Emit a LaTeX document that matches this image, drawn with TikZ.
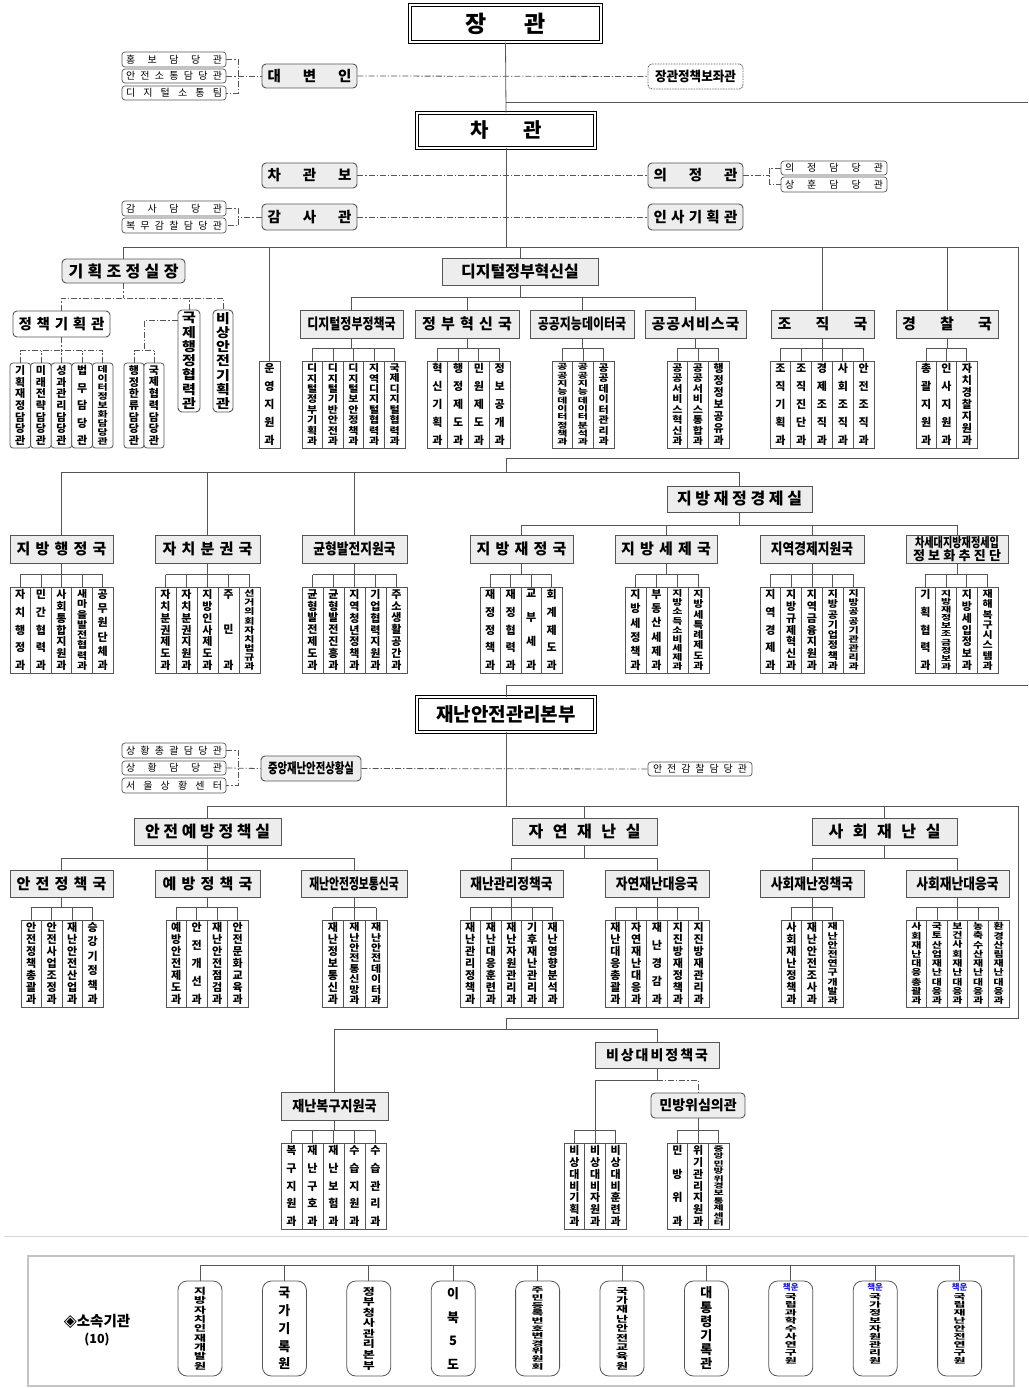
\documentclass[tikz,border=0pt]{standalone}
\usepackage{fontspec}
\usepackage{graphicx}
\setmainfont{Noto Sans CJK KR}
\newfontfamily\symfont{DejaVu Sans}
\usetikzlibrary{calc}

\definecolor{linegray}{HTML}{555555}
\definecolor{boxgray}{HTML}{EDEDED}
\definecolor{framegray}{HTML}{C4C4C4}
\definecolor{chaekun}{HTML}{1E1EE6}

% vertical and spread-out Korean text
\ExplSyntaxOn
\tl_new:N \l_kr_tl
\tl_new:N \l_kr_in_tl
\int_new:N \l_kr_n_int
\fp_new:N \l_kr_s_fp
\bool_new:N \l_kr_first_bool
\NewDocumentCommand \vt { O{11} m m }
  {
    \tl_set:Nx \l_kr_in_tl {#3}
    \int_set:Nn \l_kr_n_int { \tl_count:N \l_kr_in_tl }
    \fp_set:Nn \l_kr_s_fp { min(1, 0.95*((#2)-6)/(\l_kr_n_int*(#1))) }
    \tl_clear:N \l_kr_tl
    \bool_set_true:N \l_kr_first_bool
    \tl_map_inline:Nn \l_kr_in_tl
      {
        \bool_if:NTF \l_kr_first_bool
          { \bool_set_false:N \l_kr_first_bool }
          { \tl_put_right:Nn \l_kr_tl { \par \vfill } }
        \tl_put_right:Nx \l_kr_tl
          { \exp_not:N \makebox [0pt] { \exp_not:N \scalebox {1} [ \fp_use:N \l_kr_s_fp ] { \exp_not:n {##1} } } }
      }
    \parbox [c] [ \fp_eval:n { (#2) - 6 } pt ] [s] { 0pt }
      {
        \centering
        \fontsize {#1} { \fp_eval:n { (#1) * \l_kr_s_fp } } \selectfont
        \skip_set:Nn \lineskip { 0pt }
        \dim_set:Nn \lineskiplimit { -100pt }
        \l_kr_tl
      }
  }
\NewDocumentCommand \hjust { m m }
  {
    \tl_set:Nx \l_kr_in_tl {#2}
    \tl_clear:N \l_kr_tl
    \bool_set_true:N \l_kr_first_bool
    \tl_map_inline:Nn \l_kr_in_tl
      {
        \bool_if:NTF \l_kr_first_bool
          { \bool_set_false:N \l_kr_first_bool }
          { \tl_put_right:Nn \l_kr_tl { \hfill } }
        \tl_put_right:Nn \l_kr_tl {##1}
      }
    \makebox [#1pt] [s] { \l_kr_tl }
  }
\ExplSyntaxOff

\newcommand\cond[2][0.8]{\scalebox{#1}[1]{#2}}

\tikzset{
  conn/.style={draw=linegray, line width=0.8pt},
  dd/.style={conn, dash pattern=on 6pt off 2pt on 1.2pt off 2pt},
  kuk/.style={draw=linegray, fill=boxgray, line width=0.9pt, inner sep=0pt, font=\bfseries\fontsize{15}{17}\selectfont},
  rbox/.style={kuk, rounded corners=4pt, font=\bfseries\fontsize{14.5}{16}\selectfont},
  sbox/.style={draw=linegray, fill=white, rounded corners=3pt, line width=0.7pt, inner sep=0pt, font=\fontsize{10}{11}\selectfont},
  kwa/.style={draw=linegray, fill=white, line width=0.8pt, inner sep=0pt, font=\bfseries},
  dmg/.style={kwa, rounded corners=3pt},
  topbox/.style={draw=black, line width=1.3pt, double=white, double distance=2pt, fill=white, inner sep=0pt, font=\bfseries\fontsize{23}{25}\selectfont},
  soksok/.style={draw=linegray, fill=white, rounded corners=9pt, line width=0.8pt, inner sep=0pt, font=\bfseries},
}

% box from its corners: [style]{name}{x0}{y0}{x1}{y1}{text}
\newcommand\bx[7][]{%
  \node[#1, minimum width={#5-#3}, minimum height={#6-#4}] (#2) at ({(#3+#5)/2},{(#4+#6)/2}) {#7};}

% row of divisions under a parent
\newcommand\tree[9]{%
  \foreach \nm [count=\i] in {#9} {
    \node[#1, minimum width=#6, minimum height={#8-#7}] (#4\i)
      at ({#5+(\i-0.5)*#6},{(#7+#8)/2}) {\vt{#8-#7}{\nm}};
    \draw[#2] (#4\i.north) -- ++(0,-12) coordinate (#4b\i);
    \draw[#2] (#4b1) -- (#4b\i);
  }
  \draw[#2] (#3) -- (#3 |- #4b1);
}

\begin{document}
\begin{tikzpicture}[x=1pt, y=-1pt]
\useasboundingbox (0,0) rectangle (1028,1388);
\fill[white] (0,0) rectangle (1028,1388);

% Minister and vice minister
\bx[topbox]{jang}{410}{5}{601}{42}{\hjust{81}{장관}}
\bx[topbox, line width=0.9pt, double distance=2.2pt, font=\bfseries\fontsize{20}{22}\selectfont]{cha}{417}{113}{595}{148}{\hjust{71}{차관}}
\bx[rbox]{dae}{262}{64}{357}{88}{\hjust{84}{대변인}}
\bx[rbox, fill=white, dash pattern=on 0.8pt off 0.8pt, font=\bfseries\fontsize{13.5}{15}\selectfont]{bojwa}{648}{64}{743}{89}{\cond[0.93]{장관정책보좌관}}
\bx[rbox]{chabo}{262}{163}{357}{188}{\hjust{84}{차관보}}
\bx[rbox]{uijeong}{648}{163}{743}{188}{\hjust{84}{의정관}}
\bx[rbox]{gamsa}{262}{204}{357}{230}{\hjust{84}{감사관}}
\bx[rbox]{insa}{648}{204}{743}{230}{\hjust{84}{인사기획관}}
\bx[sbox]{hongbo}{122}{52}{226}{67}{\hjust{96}{홍보담당관}}
\bx[sbox]{ajst}{122}{69}{226}{83}{\hjust{96}{안전소통담당관}}
\bx[sbox]{digi}{122}{86}{226}{100}{\hjust{96}{디지털소통팀}}
\bx[sbox]{gsdd}{122}{201}{226}{216}{\hjust{96}{감사담당관}}
\bx[sbox]{bmgc}{122}{218}{226}{233}{\hjust{96}{복무감찰담당관}}
\bx[sbox]{uidd}{781}{161}{887}{175}{\hjust{98}{의정담당관}}
\bx[sbox]{shdd}{781}{177}{887}{192}{\hjust{98}{상훈담당관}}

\coordinate (e1) at (1028,102);
\draw[conn] (jang.south) -- (cha.north);
\draw[conn] (jang.south |- e1) -- (e1);
\draw[dd] (dae.east) -- (bojwa.west);
\draw[dd] (chabo.east) -- (uijeong.west);
\draw[dd] (gamsa.east) -- (insa.west);
\draw[dd] (hongbo.east) -- ++(12,0) |- (digi.east);
\draw[dd] (ajst.east) -- (dae.west);
\draw[dd] (gsdd.east) -- ++(12,0) |- (bmgc.east);
\draw[dd] (gamsa.west) -- ++(-24,0);
\draw[dd] (uijeong.east) -- ++(27,0);
\draw[dd] (uidd.west) -- ++(-11,0) |- (shdd.west);

% Planning and coordination
\bx[rbox, font=\bfseries\fontsize{16}{18}\selectfont]{gijo}{62}{259}{185}{283}{\hjust{110}{기획조정실장}}
\bx[rbox, fill=white]{jcgh}{13}{311}{110}{337}{\hjust{86}{정책기획관}}
\bx[rbox, fill=white]{gjhj}{178}{310}{200}{412}{\vt[15]{102}{국제행정협력관}}
\bx[rbox, fill=white]{bsag}{213}{310}{233}{412}{\vt[15]{102}{비상안전기획관}}
\coordinate (gjb) at (0,298);
\draw[dd] (gijo.south) -- (gijo.south |- gjb);
\draw[dd] (jcgh.north) |- (bsag.north |- gjb) -- (bsag.north);
\draw[dd] (gjhj.north) -- (gjhj.north |- gjb);
\draw[dd] ([yshift=-11pt]gjhj.north west) -- ++(-33,0) coordinate (hrp);
\tree{dmg}{dd}{jcgh.south}{jc}{10}{20.6}{363}{448}{기획재정담당관,미래전략담당관,성과관리담당관,법무담당관,데이터정보화담당관}
\tree{dmg}{dd}{hrp}{hr}{124}{20}{363}{448}{행정한류담당관,국제협력담당관}
\bx[kwa]{unyeong}{259}{361}{280}{448}{\vt{87}{운영지원과}}

% Digital government innovation
\bx[kuk, font=\bfseries\fontsize{16}{18}\selectfont]{dgs}{442}{258}{598}{285}{디지털정부혁신실}
\bx[kuk]{dgp}{300}{310}{403}{338}{\cond{디지털정부정책국}}
\bx[kuk]{gh}{415}{310}{519}{338}{\hjust{90}{정부혁신국}}
\bx[kuk]{gj}{530}{310}{634}{338}{\cond{공공지능데이터국}}
\bx[kuk]{gsv}{645}{310}{746}{338}{\hjust{88}{공공서비스국}}
\bx[kuk]{jojik}{771}{310}{874}{338}{\hjust{90}{조직국}}
\bx[kuk]{gc}{896}{310}{998}{338}{\hjust{90}{경찰국}}
\coordinate (dgb) at (0,297);
\draw[conn] (dgs.south) -- (dgs.south |- dgb);
\draw[conn] (dgp.north) |- (gsv.north |- dgb) -- (gsv.north);
\draw[conn] (gh.north) -- (gh.north |- dgb);
\draw[conn] (gj.north) -- (gj.north |- dgb);
\tree{kwa}{conn}{dgp.south}{dp}{302}{20.6}{361}{448}{디지털정부기획과,디지털기반안전과,디지털보안정책과,지역디지털협력과,국제디지털협력과}
\tree{kwa}{conn}{gh.south}{hs}{427}{20.75}{361}{448}{혁신기획과,행정제도과,민원제도과,정보공개과}
\tree{kwa}{conn}{gj.south}{gd}{552}{20.67}{361}{448}{공공지능데이터정책과,공공지능데이터분석과,공공데이터관리과}
\tree{kwa}{conn}{gsv.south}{gs}{667}{20.67}{361}{448}{공공서비스혁신과,공공서비스통합과,행정정보공유과}
\tree{kwa}{conn}{jojik.south}{jo}{770}{20.8}{361}{448}{조직기획과,조직진단과,경제조직과,사회조직과,안전조직과}
\tree{kwa}{conn}{gc.south}{gck}{916}{20.33}{361}{448}{총괄지원과,인사지원과,자치경찰지원과}

% upper frame
\coordinate (frNE) at (1018,247);
\coordinate (frSE) at (1018,458);
\draw[conn] (gijo.north) |- (frNE) -- (frSE) -- (cha.south |- frSE);
\draw[conn] (cha.south) -- (cha.south |- frNE);
\draw[conn] (unyeong.north) -- (unyeong.north |- frNE);
\draw[conn] (dgs.north) -- (dgs.north |- frNE);
\draw[conn] (jojik.north) -- (jojik.north |- frNE);
\draw[conn] (gc.north) -- (gc.north |- frNE);

% Local government row
\bx[kuk, font=\bfseries\fontsize{16}{18}\selectfont]{jjk}{667}{486}{812}{512}{\hjust{125}{지방재정경제실}}
\bx[kuk]{jh}{10}{535}{113}{563}{\hjust{90}{지방행정국}}
\bx[kuk]{jb}{155}{535}{260}{563}{\hjust{90}{자치분권국}}
\bx[kuk]{gb}{302}{535}{407}{563}{\cond[0.85]{균형발전지원국}}
\bx[kuk]{jj}{470}{535}{573}{563}{\hjust{90}{지방재정국}}
\bx[kuk]{jse}{615}{535}{717}{563}{\hjust{90}{지방세제국}}
\bx[kuk]{jg}{760}{535}{864}{563}{\cond[0.85]{지역경제지원국}}
\bx[kuk, align=center, font=\bfseries\fontsize{13}{13}\selectfont]{csd}{906}{535}{1008}{563}{\cond[0.78]{차세대지방재정세입}\\\hjust{88}{정보화추진단}}
\coordinate (r3) at (0,472);
\coordinate (r3b) at (0,525);
\draw[conn] (cha.south |- frSE) -- (cha.south |- r3);
\draw[conn] (jh.north) |- (jjk.north |- r3) -- (jjk.north);
\draw[conn] (jb.north) -- (jb.north |- r3);
\draw[conn] (gb.north) -- (gb.north |- r3);
\draw[conn] (jjk.south) -- (jjk.south |- r3b);
\draw[conn] (jj.north) |- (csd.north |- r3b) -- (csd.north);
\draw[conn] (jse.north) -- (jse.north |- r3b);
\draw[conn] (jg.north) -- (jg.north |- r3b);
\tree{kwa}{conn}{jh.south}{jhk}{10}{20.6}{587}{673}{자치행정과,민간협력과,사회통합지원과,새마을발전협력과,공무원단체과}
\tree{kwa}{conn}{jb.south}{jbk}{155}{21}{587}{673}{자치분권제도과,자치분권지원과,지방인사제도과,주민과,선거의회자치법규과}
\tree{kwa}{conn}{gb.south}{gbk}{302}{21}{587}{673}{균형발전제도과,균형발전진흥과,지역청년정책과,기업협력지원과,주소생활공간과}
\tree{kwa}{conn}{jj.south}{jjg}{480}{20.5}{587}{673}{재정정책과,재정협력과,교부세과,회계제도과}
\tree{kwa}{conn}{jse.south}{jsk}{625}{21}{587}{673}{지방세정책과,부동산세제과,지방소득소비세제과,지방세특례제도과}
\tree{kwa}{conn}{jg.south}{jgk}{760}{20.8}{587}{673}{지역경제과,지방규제혁신과,지역금융지원과,지방공기업정책과,지방공공기관관리과}
\tree{kwa}{conn}{csd.south}{csk}{915}{20.75}{587}{673}{기획협력과,지방재정보조금정보과,지방세입정보과,재해복구시스템과}

% Disaster and safety management
\bx[topbox, line width=0.9pt, double distance=2.2pt, font=\bfseries\fontsize{19}{21}\selectfont]{jaenan}{417}{697}{595}{732}{재난안전관리본부}
\bx[rbox, font=\bfseries\fontsize{14}{16}\selectfont]{sanghwang}{261}{756}{361}{781}{\cond[0.74]{중앙재난안전상황실}}
\bx[sbox]{shcg}{122}{743}{226}{758}{\hjust{96}{상황총괄담당관}}
\bx[sbox]{shdg}{122}{761}{226}{775}{\hjust{96}{상황담당관}}
\bx[sbox]{seoul}{122}{778}{226}{793}{\hjust{96}{서울상황센터}}
\bx[sbox]{gamchal}{648}{762}{752}{776}{\hjust{94}{안전감찰담당관}}
\coordinate (e2) at (1028,685);
\draw[conn] (jaenan.north) -- (jaenan.north |- e2) -- (e2);
\draw[dd] (shcg.east) -- ++(12,0) |- (seoul.east);
\draw[dd] (shdg.east) -- (sanghwang.west);
\draw[dd] (sanghwang.east) -- (gamchal.west);

\bx[kuk, font=\bfseries\fontsize{16}{18}\selectfont]{anye}{134}{818}{281}{845}{\hjust{125}{안전예방정책실}}
\bx[kuk, font=\bfseries\fontsize{16}{18}\selectfont]{jayeon}{512}{818}{657}{845}{\hjust{112}{자연재난실}}
\bx[kuk, font=\bfseries\fontsize{16}{18}\selectfont]{sahoe}{812}{818}{957}{845}{\hjust{112}{사회재난실}}
\bx[kuk]{ajc}{10}{870}{113}{897}{\hjust{90}{안전정책국}}
\bx[kuk]{yb}{155}{870}{260}{897}{\hjust{90}{예방정책국}}
\bx[kuk]{jatg}{301}{870}{407}{897}{\cond[0.72]{재난안전정보통신국}}
\bx[kuk]{jgj}{460}{870}{563}{897}{\cond[0.85]{재난관리정책국}}
\bx[kuk]{jyd}{605}{870}{709}{897}{\cond[0.85]{자연재난대응국}}
\bx[kuk]{shj}{760}{870}{864}{897}{\cond[0.85]{사회재난정책국}}
\bx[kuk]{shd}{906}{870}{1009}{897}{\cond[0.85]{사회재난대응국}}
\coordinate (r4) at (0,806);
\coordinate (r4b) at (0,858);
\coordinate (fr4NE) at (1018,806);
\coordinate (fr4SE) at (1018,1018);
\coordinate (r5) at (0,1029);
\draw[conn] (jaenan.south) -- (jaenan.south |- r4);
\draw[conn] (anye.north) |- (fr4NE) -- (fr4SE) -- (jaenan.south |- fr4SE) -- (jaenan.south |- r5);
\draw[conn] (jayeon.north) -- (jayeon.north |- r4);
\draw[conn] (sahoe.north) -- (sahoe.north |- r4);
\draw[conn] (anye.south) -- (anye.south |- r4b);
\draw[conn] (ajc.north) |- (jatg.north |- r4b) -- (jatg.north);
\draw[conn] (yb.north) -- (yb.north |- r4b);
\draw[conn] (jayeon.south) -- (jayeon.south |- r4b);
\draw[conn] (jgj.north) |- (jyd.north |- r4b) -- (jyd.north);
\draw[conn] (sahoe.south) -- (sahoe.south |- r4b);
\draw[conn] (shj.north) |- (shd.north |- r4b) -- (shd.north);
\tree{kwa}{conn}{ajc.south}{ajk}{21}{20.5}{920}{1007}{안전정책총괄과,안전사업조정과,재난안전산업과,승강기정책과}
\tree{kwa}{conn}{yb.south}{ybk}{166}{20.5}{920}{1007}{예방안전제도과,안전개선과,재난안전점검과,안전문화교육과}
\tree{kwa}{conn}{jatg.south}{jtk}{322}{21.7}{920}{1007}{재난정보통신과,재난안전통신망과,재난안전데이터과}
\tree{kwa}{conn}{jgj.south}{jgjk}{460}{20.6}{920}{1007}{재난관리정책과,재난대응훈련과,재난자원관리과,기후재난관리과,재난영향분석과}
\tree{kwa}{conn}{jyd.south}{jydk}{605}{20.8}{920}{1007}{재난대응총괄과,자연재난대응과,재난경감과,지진방재정책과,지진방재관리과}
\tree{kwa}{conn}{shj.south}{shjk}{781}{20.67}{920}{1007}{사회재난정책과,재난안전조사과,재난안전연구개발과}
\tree{kwa}{conn}{shd.south}{shdk}{906}{20.6}{920}{1007}{사회재난대응총괄과,국토산업재난대응과,보건사회재난대응과,농축수산재난대응과,환경산림재난대응과}

% Recovery and emergency preparedness
\bx[kuk, font=\bfseries\fontsize{14}{16}\selectfont]{bisang}{595}{1042}{719}{1068}{\hjust{102}{비상대비정책국}}
\bx[kuk, font=\bfseries\fontsize{14.5}{16}\selectfont]{bokgu}{281}{1092}{388}{1120}{\cond[0.9]{재난복구지원국}}
\bx[rbox, font=\bfseries\fontsize{14}{16}\selectfont]{minbang}{651}{1093}{745}{1118}{민방위심의관}
\draw[conn] (bokgu.north) |- (bisang.north |- r5) -- (bisang.north);
\coordinate (bsl) at (595,1080);
\draw[conn] (bisang.south) -- (bisang.south |- bsl) -- (bsl);
\draw[dd] (bisang.south |- bsl) -| (minbang.north);
\tree{kwa}{conn}{bokgu.south}{bgk}{281}{21}{1143}{1229}{복구지원과,재난구호과,재난보험과,수습지원과,수습관리과}
\tree{kwa}{conn}{bsl}{bsk}{564}{20.7}{1143}{1229}{비상대비기획과,비상대비자원과,비상대비훈련과}
\tree{kwa}{conn}{minbang.south}{mbk}{667}{20.7}{1143}{1229}{민방위과,위기관리지원과,중앙민방위경보통제센터}

% Affiliated agencies
\draw[framegray!70, line width=1pt] (4,1236) -- (1028,1236);
\draw[framegray, line width=1.6pt] (28,1256) rectangle (1014,1386);
\node[font=\bfseries\fontsize{14.5}{16}\selectfont, align=center] (sokhead) at (97,1330) {\raisebox{-0.5pt}{\symfont\bfseries\fontsize{17}{17}\selectfont ◈}소속기관\\[1pt]{\fontsize{12.5}{14}\selectfont(10)}};
\foreach \nm [count=\i] in {지방자치인재개발원,국가기록원,정부청사관리본부,이북5도,주민등록번호변경위원회,국가재난안전교육원,대통령기록관} {
  \node[soksok, minimum width=44, minimum height=95] (sk\i) at ({200+(\i-1)*84.4},1328.5) {\vt[13]{88}{\nm}};
  \draw[conn] (sk\i.north) -- ++(0,-15);
}
\foreach \nm [count=\i from 8] in {국립과학수사연구원,국가정보자원관리원,국립재난안전연구원} {
  \node[soksok, minimum width=44, minimum height=95] (sk\i) at ({200+(\i-1)*84.4},1328.5) {\raisebox{-7pt}{\vt[13]{76}{\nm}}};
  \node[anchor=north, inner sep=0pt, text=chaekun, font=\bfseries\fontsize{8.5}{9}\selectfont] (cu\i) at ([yshift=-3pt]sk\i.north) {책운};
  \draw[conn] (sk\i.north) -- ++(0,-15);
}
\draw[conn] ([yshift=15pt]sk1.north) -- ([yshift=15pt]sk10.north);
\end{tikzpicture}
\end{document}
